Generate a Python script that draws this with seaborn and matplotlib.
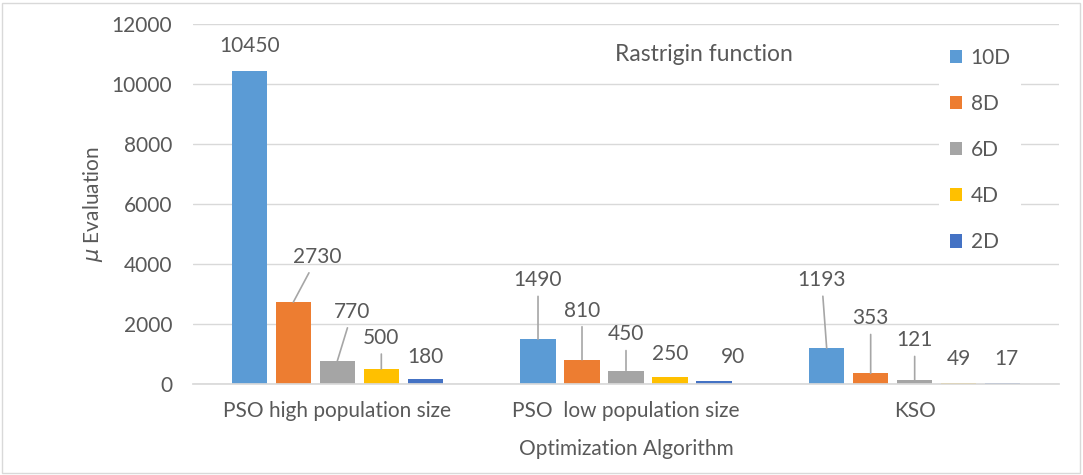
import matplotlib
matplotlib.use("Agg")
import matplotlib.pyplot as plt
from matplotlib.patches import Rectangle
import pandas as pd
import seaborn as sns

# data
algorithms = ["PSO high population size", "PSO  low population size", "KSO"]
dims = ["10D", "8D", "6D", "4D", "2D"]
evals_10d = [10450, 1490, 1193]
evals_8d = [2730, 810, 353]
evals_6d = [770, 450, 121]
evals_4d = [500, 250, 49]
evals_2d = [180, 90, 17]

colors = ["#5B9BD5", "#ED7D31", "#A5A5A5", "#FFC000", "#4472C4"]
text_col = "#595959"
grid_col = "#D9D9D9"

# label placement (pixels from bar top centre), one row per series
label_dx = [[0, 0, -5], [24, 0, 0], [15, 0, 0], [0, 0, 0], [0, 19, 4]]
label_dy = [[24, 59, 68], [45, 49, 55], [49, 36, 40], [31, 23, 24], [22, 24, 24]]

series = [evals_10d, evals_8d, evals_6d, evals_4d, evals_2d]
rows = []
for d, vals in zip(dims, series):
    for a, v in zip(algorithms, vals):
        rows.append({"algorithm": a, "dim": d, "value": v})
df = pd.DataFrame(rows)

sns.set_theme(style="white")
plt.rcParams["font.family"] = ["Lato", "DejaVu Sans"]
fs = 15

fig = plt.figure(figsize=(10.83, 4.75), dpi=100)
ax = fig.add_axes([193 / 1083, 91 / 475, 866 / 1083, 360 / 475])

sns.barplot(data=df, x="algorithm", y="value", hue="dim", palette=colors,
            order=algorithms, hue_order=dims, width=0.762, gap=0.2,
            linewidth=0, saturation=1, ax=ax)

ax.set_ylim(0, 12000)
ax.set_xlim(-0.5, 2.5)
ax.set_yticks(range(0, 12001, 2000))
ax.yaxis.grid(True, color=grid_col, lw=1)
ax.set_axisbelow(True)
for s in ["top", "right", "left"]:
    ax.spines[s].set_visible(False)
ax.spines["bottom"].set_color(grid_col)
ax.tick_params(axis="both", length=0, labelsize=fs, colors=text_col)
ax.tick_params(axis="y", pad=15)
ax.tick_params(axis="x", pad=12)

ax.set_xlabel("Optimization Algorithm", fontsize=fs, color=text_col, labelpad=13)
ax.set_ylabel(r"$\mu$ Evaluation", fontsize=fs, color=text_col, labelpad=5)

# value labels, with leader lines when far from the bar
for i, cont in enumerate(ax.containers):
    for j, bar in enumerate(cont):
        x = bar.get_x() + bar.get_width() / 2
        h = bar.get_height()
        dx, dy = label_dx[i][j], label_dy[i][j]
        kw = {}
        if dy > 28:
            kw["arrowprops"] = dict(arrowstyle="-", color="#A6A6A6", lw=1.2,
                                    shrinkA=2, shrinkB=0)
        ax.annotate(f"{h:.0f}", xy=(x, h), xytext=(dx, dy),
                    textcoords="offset pixels", ha="center", va="center",
                    fontsize=fs, color=text_col, **kw)

ax.text(0.59, 0.914, "Rastrigin function", transform=ax.transAxes,
        ha="center", va="center", fontsize=16.5, color=text_col)

handles, labels = ax.get_legend_handles_labels()
leg = ax.legend(handles, labels, loc="upper left", bbox_to_anchor=(0.862, 0.962),
                frameon=True, facecolor="white", edgecolor="none", framealpha=1,
                fontsize=fs, labelcolor=text_col, handlelength=0.6,
                handleheight=0.6, handletextpad=0.4, labelspacing=1.25,
                borderpad=0.5, borderaxespad=0)

fig.patches.append(Rectangle((0.002, 0.004), 0.995, 0.99, transform=fig.transFigure,
                             fill=False, ec=grid_col, lw=1))

fig.savefig("out.png", dpi=100, facecolor="white")
